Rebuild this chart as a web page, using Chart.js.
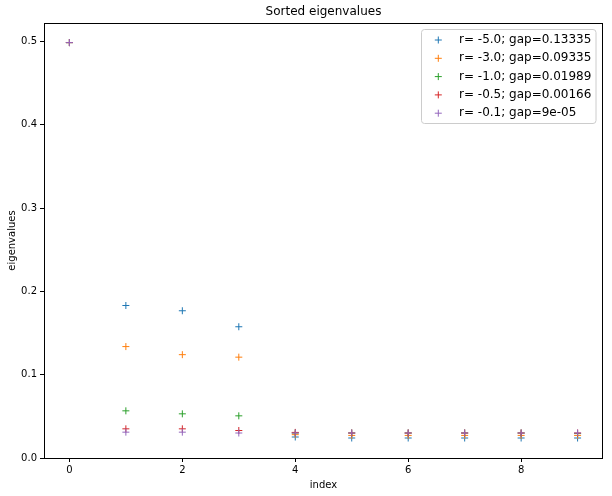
<!DOCTYPE html>
<html>
<head>
<meta charset="utf-8">
<title>Sorted eigenvalues</title>
<script src="https://cdn.jsdelivr.net/npm/chart.js@4.4.0/dist/chart.umd.min.js"></script>
<style>
    html, body { margin: 0; padding: 0; background: #fff; }
    canvas { display: block; }
</style>
</head>
<body>
<canvas id="eigen-chart" width="612" height="496"></canvas>
<script>
"use strict";

// Data
var indices = [0, 1, 2, 3, 4, 5, 6, 7, 8, 9];
var seriesLabels = [
    "r= -5.0; gap=0.13335",
    "r= -3.0; gap=0.09335",
    "r= -1.0; gap=0.01989",
    "r= -0.5; gap=0.00166",
    "r= -0.1; gap=9e-05"
];
var eigR50 = [0.4985, 0.1830, 0.1767, 0.1575, 0.0252, 0.0240, 0.0240, 0.0240, 0.0240, 0.0240];
var eigR30 = [0.4985, 0.1337, 0.1240, 0.1210, 0.0280, 0.0271, 0.0271, 0.0271, 0.0271, 0.0271];
var eigR10 = [0.4985, 0.0566, 0.0530, 0.0506, 0.0300, 0.0300, 0.0300, 0.0300, 0.0300, 0.0293];
var eigR05 = [0.4985, 0.0350, 0.0350, 0.0330, 0.0307, 0.0300, 0.0300, 0.0300, 0.0300, 0.0300];
var eigR01 = [0.4985, 0.0310, 0.0310, 0.0300, 0.0300, 0.0300, 0.0300, 0.0300, 0.0300, 0.0300];
var xTicks = [0, 2, 4, 6, 8];
var yTicks = [0.0, 0.1, 0.2, 0.3, 0.4, 0.5];

var seriesValues = [eigR50, eigR30, eigR10, eigR05, eigR01];
var colors = ["#1f77b4", "#ff7f0e", "#2ca02c", "#d62728", "#9467bd"];


// Chart defaults
Chart.defaults.font.family = "'DejaVu Sans', sans-serif";
Chart.defaults.font.size = 10;
Chart.defaults.color = "#000000";


// Frame, title and legend drawn like matplotlib
var mplPlugin = {
    id: "mpl",
    afterDraw: function (chart) {
        var ctx = chart.ctx;
        var area = chart.chartArea;
        ctx.save();

        // box around the axes
        ctx.strokeStyle = "#000";
        ctx.lineWidth = 1;
        ctx.strokeRect(Math.round(area.left) + 0.5, Math.round(area.top) + 0.5,
            Math.round(area.right - area.left) - 1, Math.round(area.bottom - area.top));

        // title
        ctx.fillStyle = "#000";
        ctx.font = "12px 'DejaVu Sans', sans-serif";
        ctx.textAlign = "center";
        ctx.textBaseline = "middle";
        ctx.fillText("Sorted eigenvalues", (area.left + area.right) / 2, 12);

        // legend box
        var bx = 421.5, by = 29.5, bw = 174.5, bh = 94, r = 3;
        ctx.beginPath();
        ctx.moveTo(bx + r, by);
        ctx.arcTo(bx + bw, by, bx + bw, by + bh, r);
        ctx.arcTo(bx + bw, by + bh, bx, by + bh, r);
        ctx.arcTo(bx, by + bh, bx, by, r);
        ctx.arcTo(bx, by, bx + bw, by, r);
        ctx.closePath();
        ctx.fillStyle = "rgba(255,255,255,0.8)";
        ctx.fill();
        ctx.strokeStyle = "#cccccc";
        ctx.stroke();

        ctx.textAlign = "left";
        seriesLabels.forEach(function (label, i) {
            var y = 40 + i * 18.3;
            ctx.strokeStyle = colors[i];
            ctx.beginPath();
            ctx.moveTo(434.8, y);
            ctx.lineTo(441.8, y);
            ctx.moveTo(438.3, y - 3.5);
            ctx.lineTo(438.3, y + 3.5);
            ctx.stroke();
            ctx.fillStyle = "#000";
            ctx.fillText(label, 459, y);
        });
        ctx.restore();
    }
};


// Sorted eigenvalues chart
var ctx1 = document.getElementById("eigen-chart").getContext("2d");
var myChart1 = new Chart(ctx1, {
    type: "scatter",
    data: {
        datasets: seriesValues.map(function (vals, i) {
            return {
                label: seriesLabels[i],
                data: indices.map(function (x, j) { return {x: x, y: vals[j]}; }),
                pointStyle: "cross",
                pointRadius: 3.5,
                pointHoverRadius: 3.5,
                borderWidth: 1,
                borderColor: colors[i],
                backgroundColor: colors[i],
                order: seriesValues.length - i
            };
        })
    },
    options: {
        responsive: false,
        animation: false,
        layout: {
            padding: {top: 23, right: 9, left: 0, bottom: 0}
        },
        plugins: {
            legend: {display: false},
            title: {display: false},
            tooltip: {enabled: false}
        },
        scales: {
            x: {
                type: "linear",
                min: -0.45,
                max: 9.45,
                afterFit: function (scale) { scale.height = 38; },
                afterBuildTicks: function (scale) {
                    scale.ticks = xTicks.map(function (v) { return {value: v}; });
                },
                ticks: {
                    padding: 2,
                    maxRotation: 0,
                    callback: function (v) { return String(v); }
                },
                grid: {drawOnChartArea: false, tickLength: 4, tickColor: "#000"},
                border: {display: false},
                title: {display: true, text: "index", padding: {top: 0, bottom: 5}}
            },
            y: {
                min: 0,
                max: 0.522,
                afterFit: function (scale) { scale.width = 44; },
                afterBuildTicks: function (scale) {
                    scale.ticks = yTicks.map(function (v) { return {value: v}; });
                },
                ticks: {
                    padding: 3,
                    callback: function (v) { return v.toFixed(1); }
                },
                grid: {drawOnChartArea: false, tickLength: 4, tickColor: "#000"},
                border: {display: false},
                title: {display: true, text: "eigenvalues", padding: {top: 6, bottom: 0}}
            }
        }
    },
    plugins: [mplPlugin]
});
</script>
</body>
</html>
